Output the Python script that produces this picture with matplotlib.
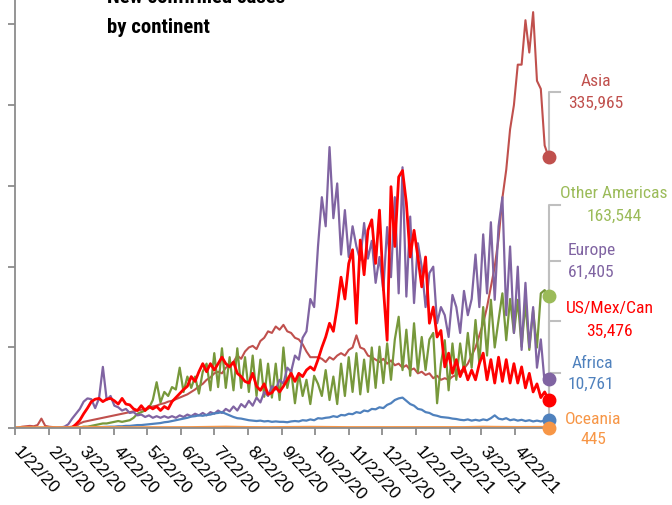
import os
import matplotlib
matplotlib.use('Agg')
import matplotlib.pyplot as plt
import matplotlib.transforms as mtransforms
from matplotlib import font_manager as fm
import pandas as pd

# ---------------- data (thousands of new cases, sampled every 3.5 days) ----------------
dates = pd.date_range('2020-01-22', periods=140, freq='84h')

asia = [0.5, 1, 2, 2.5, 3, 2.5, 4, 12, 3, 2,
        1.5, 1, 1, 1, 1.5, 2, 2.5, 6, 8, 9,
        10, 11, 12, 13, 14, 15, 16, 17, 18, 19,
        20, 21, 22, 23, 24, 25, 27, 28, 30, 31,
        33, 34, 36, 38, 40, 42, 45, 48, 52, 55,
        60, 63, 68, 70, 68, 75, 78, 82, 90, 86,
        95, 100, 102, 98, 108, 112, 120, 118, 126, 122,
        128, 120, 118, 112, 110, 104, 95, 88, 88, 88,
        86, 82, 88, 85, 90, 93, 90, 97, 100, 115,
        100, 98, 90, 88, 85, 82, 86, 80, 84, 78,
        80, 75, 78, 72, 74, 68, 70, 66, 68, 62,
        65, 60, 62, 60, 64, 66, 70, 74, 80, 90,
        100, 115, 130, 150, 175, 200, 235, 285, 320, 370,
        400, 450, 450, 505, 465, 515, 430, 420, 350, 335.965]

other_americas = [0, 0, 0, 0, 0, 0, 0, 0, 0, 0,
                  0, 0, 0, 0, 0, 0.3, 0.5, 1, 2, 2,
                  3, 4, 5, 6, 6, 7, 8, 9, 8, 9,
                  10, 13, 18, 20, 22, 25, 35, 57, 32, 45,
                  40, 51, 48, 75, 45, 64, 50, 64, 43, 70,
                  80, 47, 93, 51, 99, 50, 88, 47, 99, 50,
                  88, 45, 90, 40, 85, 39, 80, 38, 80, 35,
                  100, 50, 72, 31, 68, 40, 60, 30, 65, 55,
                  40, 72, 35, 64, 30, 80, 40, 88, 45, 93,
                  42, 85, 45, 100, 50, 101, 56, 105, 60, 110,
                  138, 72, 122, 65, 130, 70, 113, 72, 110, 118,
                  31, 80, 109, 47, 105, 60, 105, 70, 118, 75,
                  134, 80, 150, 90, 159, 100, 134, 167, 109, 160,
                  118, 159, 101, 155, 97, 146, 100, 167, 171, 163.544]

europe = [0, 0, 0, 0, 0, 0, 0, 0, 0, 0.1,
          0.2, 0.5, 1, 2, 5, 12, 18, 24, 33, 37,
          36, 25, 37, 76, 35, 40, 28, 26, 22, 24,
          19, 20, 16, 17, 14, 16, 13, 15, 13, 15,
          13, 15, 13, 16, 14, 17, 15, 18, 16, 19,
          16, 20, 18, 22, 19, 24, 21, 27, 22, 30,
          26, 34, 28, 38, 32, 45, 40, 52, 48, 60,
          55, 75, 70, 90, 85, 112, 120, 160, 150, 225,
          286, 250, 348, 260, 303, 215, 270, 212, 250, 225,
          208, 254, 210, 232, 180, 212, 171, 249, 187, 286,
          167, 323, 163, 262, 155, 229, 200, 150, 192, 200,
          130, 150, 140, 113, 165, 150, 118, 170, 140, 160,
          215, 150, 240, 167, 255, 159, 250, 286, 140, 225,
          118, 200, 97, 180, 100, 150, 75, 110, 56, 61.405]

us_mex_can = [0, 0, 0, 0, 0, 0, 0, 0, 0, 0,
              0, 0, 0, 0.1, 0.5, 1, 5, 10, 18, 25,
              33, 36, 37, 33, 36, 37, 34, 30, 37, 30,
              29, 24, 22, 28, 22, 27, 24, 27, 22, 27,
              24, 33, 38, 43, 48, 52, 64, 58, 70, 80,
              70, 80, 72, 80, 88, 80, 76, 82, 68, 64,
              58, 56, 68, 52, 47, 55, 42, 44, 51, 45,
              52, 60, 68, 58, 68, 64, 72, 76, 72, 85,
              100, 113, 130, 120, 150, 187, 160, 204, 221, 130,
              233, 190, 245, 258, 204, 270, 175, 109, 299, 225,
              311, 319, 279, 212, 245, 212, 175, 212, 130, 150,
              113, 121, 76, 93, 68, 85, 64, 76, 60, 72,
              60, 80, 93, 60, 85, 56, 88, 58, 85, 56,
              80, 56, 76, 50, 68, 45, 55, 38, 45, 35.476]

africa = [0, 0, 0, 0, 0, 0, 0, 0, 0, 0,
          0, 0, 0, 0, 0, 0.2, 0.3, 0.5, 0.6, 0.8,
          1, 1.2, 1.5, 1.5, 1.8, 2, 2, 2.5, 2.5, 3,
          3, 3.5, 4, 4, 4.5, 5, 5.5, 6, 6.5, 7.5,
          8, 9, 10, 11, 12, 13, 14.5, 15, 16, 15.5,
          16.5, 17, 18.5, 19, 20, 18, 16, 14, 12.5, 12,
          11, 10, 9.5, 9, 9.5, 8.5, 9, 8, 8.5, 8,
          8, 7.5, 8.5, 9, 8.5, 10, 9.5, 11, 10, 12.5,
          12, 13, 13.5, 15, 14, 16.5, 16, 18, 17.5, 20,
          19, 22, 21, 24, 23.5, 26, 25, 29, 31, 35,
          37, 38, 34, 30, 28, 24, 23, 20, 19, 16.5,
          15.5, 14, 13.5, 13, 12, 11.5, 10.5, 10, 11, 9.5,
          10.5, 9.5, 11, 10, 12.5, 16, 12, 11, 12.5, 10,
          11, 9.5, 10.5, 9, 10, 8.5, 9.5, 8.5, 9.5, 10.761]

oceania = [0, 0, 0, 0, 0, 0, 0, 0, 0, 0,
           0, 0, 0, 0, 0.01, 0.05, 0.15, 0.3, 0.4, 0.45,
           0.4, 0.3, 0.25, 0.15, 0.1, 0.05, 0.03, 0.02, 0.02, 0.02,
           0.02, 0.02, 0.02, 0.02, 0.02, 0.02, 0.02, 0.02, 0.03, 0.03,
           0.03, 0.04, 0.05, 0.06, 0.08, 0.1, 0.15, 0.2, 0.3, 0.4,
           0.45, 0.5, 0.55, 0.6, 0.7, 0.75, 0.65, 0.55, 0.45, 0.35,
           0.3, 0.25, 0.2, 0.15, 0.12, 0.1, 0.1, 0.12, 0.15, 0.2,
           0.25, 0.3, 0.35, 0.4, 0.5, 0.55, 0.6, 0.55, 0.5, 0.45,
           0.4, 0.35, 0.3, 0.25, 0.2, 0.2, 0.15, 0.15, 0.15, 0.2,
           0.2, 0.2, 0.15, 0.15, 0.2, 0.2, 0.25, 0.2, 0.2, 0.2,
           0.25, 0.2, 0.2, 0.15, 0.15, 0.15, 0.15, 0.1, 0.1, 0.1,
           0.1, 0.1, 0.1, 0.1, 0.1, 0.1, 0.15, 0.2, 0.3, 0.4,
           0.5, 0.6, 0.7, 0.6, 0.55, 0.5, 0.45, 0.4, 0.4, 0.35,
           0.35, 0.3, 0.3, 0.35, 0.4, 0.4, 0.45, 0.4, 0.45, 0.445]

series_names = ['Asia', 'Other Americas', 'Europe', 'US/Mex/Can', 'Africa', 'Oceania']
series_values = [asia, other_americas, europe, us_mex_can, africa, oceania]
last_labels = ['335,965', '163,544', '61,405', '35,476', '10,761', '445']

tick_dates = ['2020-01-22', '2020-02-22', '2020-03-22', '2020-04-22', '2020-05-22',
              '2020-06-22', '2020-07-22', '2020-08-22', '2020-09-22', '2020-10-22',
              '2020-11-22', '2020-12-22', '2021-01-22', '2021-02-22', '2021-03-22',
              '2021-04-22']
tick_labels = ['1/22/20', '2/22/20', '3/22/20', '4/22/20', '5/22/20', '6/22/20',
               '7/22/20', '8/22/20', '9/22/20', '10/22/20', '11/22/20', '12/22/20',
               '1/22/21', '2/22/21', '3/22/21', '4/22/21']


# ---------------- fonts: prefer a narrow / condensed face ----------------
def pick_font(patterns, want_bold):
    for pat in patterns:
        for f in fm.fontManager.ttflist:
            base = os.path.basename(f.fname).lower().replace(' ', '')
            nm = f.name.lower().replace(' ', '')
            if pat in base or pat in nm:
                w = f.weight
                if not isinstance(w, (int, float)):
                    w = {'bold': 700, 'heavy': 800, 'black': 900, 'semibold': 600,
                         'demibold': 600}.get(str(w).lower(), 400)
                if (w >= 600) == want_bold and f.style == 'normal':
                    return f.fname
    return None


patterns = ['liberationsansnarrow', 'arialnarrow', 'robotocondensed', 'opensanscondensed',
            'notosanscondensed', 'dejavusanscondensed', 'narrow', 'condensed']
reg_path = pick_font(patterns, False)
bold_path = pick_font(patterns, True)
fp_reg = fm.FontProperties(fname=reg_path) if reg_path else fm.FontProperties(family='Liberation Sans')
fp_bold = (fm.FontProperties(fname=bold_path) if bold_path
           else fm.FontProperties(family='Liberation Sans', weight='bold'))
fp_tick = fm.FontProperties(family='Liberation Sans')

# ---------------- styling ----------------
line_colors = ['#C0504D', '#77983B', '#8064A2', '#FF0000', '#4F81BD', '#F79646']
label_colors = ['#C0504D', '#9BBB59', '#8064A2', '#FF0000', '#4F81BD', '#F79646']
marker_colors = ['#C0504D', '#9BBB59', '#8064A2', '#FF0000', '#4F81BD', '#F79646']
line_widths = [1.5, 1.6, 1.6, 2.0, 1.6, 3.0]

W, H = 672, 505
fig = plt.figure(figsize=(W / 100, H / 100), dpi=100)
renderer = fig.canvas.get_renderer()


def fit_size(s, fp, target_px):
    t = fig.text(0, 0, s, fontproperties=fp, fontsize=10)
    w = t.get_window_extent(renderer).width
    t.remove()
    return 10 * target_px / w


label_size = fit_size('Other Americas', fp_reg, 106)
title_size = fit_size('by continent', fp_bold, 103)

ax_left, ax_right, ax_bottom_px, ax_top_px = 14.5, 548.5, 428.3, 0.0
ax = fig.add_axes([ax_left / W, 1 - ax_bottom_px / H,
                   (ax_right - ax_left) / W, (ax_bottom_px - ax_top_px) / H])
YMAX = 530000
ax.set_xlim(dates[0], dates[-1])
ax.set_ylim(0, YMAX)

for vals, c, lw in zip(series_values, line_colors, line_widths):
    ax.plot(dates, [v * 1000 for v in vals], color=c, lw=lw, solid_joinstyle='round')

for vals, c in zip(series_values, marker_colors):
    ax.plot([dates[-1]], [vals[-1] * 1000], 'o', ms=9, color=c, clip_on=False, zorder=6)

# leader lines (axes-fraction levels of the label stubs)
leader_levels = [0.785, 0.5217, 0.3906, 0.2512, 0.1284, None]
stub = 11 / (ax_right - ax_left)
for vals, lvl in zip(series_values, leader_levels):
    if lvl is None:
        continue
    yd = vals[-1] * 1000 / YMAX
    ax.plot([1.0, 1.0, 1.0 + stub], [yd, lvl, lvl], color='#BFBFBF', lw=1.5,
            transform=ax.transAxes, clip_on=False, zorder=4)

# end labels (pixel centres)
label_pos = [((596, 82), (596, 103)), ((614, 194), (614, 216)), ((592, 251), (591, 272)),
             ((610, 309), (609, 331)), ((592, 363), (591, 384)), ((593, 419), (593, 440))]
for name, val, c, (p1, p2) in zip(series_names, last_labels, label_colors, label_pos):
    fig.text(p1[0] / W, 1 - p1[1] / H, name, ha='center', va='center', color=c,
             fontproperties=fp_reg, fontsize=label_size)
    fig.text(p2[0] / W, 1 - p2[1] / H, val, ha='center', va='center', color=c,
             fontproperties=fp_reg, fontsize=label_size)

# title (top line cropped by the figure edge, as in the reference)
fig.text(107 / W, 1 - 3 / H, 'New confirmed cases', ha='left', va='baseline',
         fontproperties=fp_bold, fontsize=title_size, color='black')
fig.text(107 / W, 1 - 33 / H, 'by continent', ha='left', va='baseline',
         fontproperties=fp_bold, fontsize=title_size, color='black')

# axes styling
for s in ['top', 'right']:
    ax.spines[s].set_visible(False)
for s in ['left', 'bottom']:
    ax.spines[s].set_color('#8C8C8C')
    ax.spines[s].set_linewidth(1.3)
ax.set_yticks(range(0, 500001, 100000))
ax.set_yticklabels([])
ax.set_xticks(pd.to_datetime(tick_dates))
ax.set_xticklabels(tick_labels, rotation=-47, ha='left', va='top', rotation_mode='anchor',
                   fontproperties=fp_tick, fontsize=12.6)
ax.tick_params(axis='both', direction='out', length=5, width=1.3, color='#8C8C8C')
ax.tick_params(axis='x', pad=6)
offset = mtransforms.ScaledTranslation(7 / 100, 0, fig.dpi_scale_trans)
for lab in ax.get_xticklabels():
    lab.set_transform(lab.get_transform() + offset)

fig.savefig('out.png', dpi=100)
